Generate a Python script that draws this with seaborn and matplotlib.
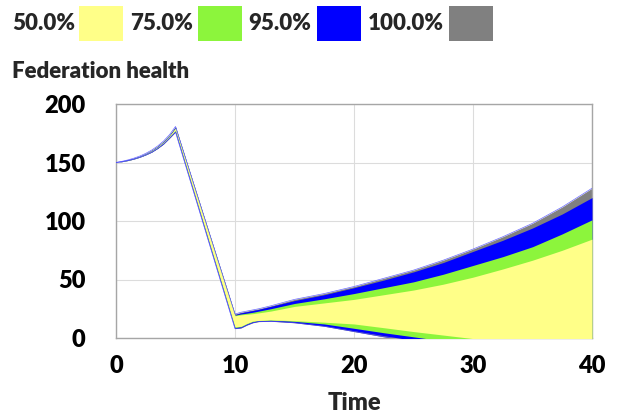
import matplotlib
matplotlib.use("Agg")
import matplotlib.pyplot as plt
import seaborn as sns
import pandas as pd
from matplotlib.patches import Rectangle

# =====================================================
# DATA
# =====================================================
time = [0, 0.5, 1, 1.5, 2, 2.5, 3, 3.5, 4, 4.5, 5,
        10, 10.5, 11, 11.5, 12, 13, 15, 17.5, 20,
        22.5, 25, 27.5, 30, 32.5, 35, 37.5, 40]

hi100 = [150, 151.0, 152.2, 153.7, 155.5, 157.8, 160.6, 164.1, 168.4, 173.8, 180.8,
         20.5, 22, 23, 24, 25, 27.5, 33, 38, 44,
         51, 58, 66.5, 76, 86.5, 98, 112, 128]
hi95 = [150, 151.0, 152.2, 153.6, 155.4, 157.7, 160.4, 163.9, 168.2, 173.5, 180.4,
        20, 21.5, 22.5, 23.5, 24.5, 27, 32, 37, 43,
        49.5, 56.5, 64.5, 74, 83.5, 94, 106, 120]
hi75 = [150, 150.9, 152.1, 153.5, 155.3, 157.5, 160.2, 163.6, 167.8, 173.1, 179.7,
        19.5, 20.5, 21.2, 22, 23, 25, 29.5, 33.5, 38,
        43, 48, 54.5, 62, 69.5, 78, 89, 101]
hi50 = [150, 150.9, 152.0, 153.4, 155.2, 157.4, 160.0, 163.4, 167.6, 172.8, 179.3,
        19, 19.8, 20.3, 20.8, 21.5, 23, 27, 30, 33,
        37, 41, 46, 52, 59, 66.5, 75, 84.5]
lo50 = [150, 150.8, 151.9, 153.2, 154.9, 157.0, 159.5, 162.8, 166.8, 171.9, 177.5,
        9.5, 10, 12.5, 14.5, 15, 15.5, 14.8, 13.5, 12,
        8.8, 5.5, 2.5, -0.5, -3.5, -7, -10, -13]
lo75 = [150, 150.8, 151.8, 153.1, 154.8, 156.8, 159.3, 162.5, 166.5, 171.5, 177.0,
        9, 9.5, 12, 14, 14.8, 15.2, 14.2, 12, 8.3,
        4.5, 1, -2.5, -6, -9, -12, -15, -18]
lo95 = [150, 150.7, 151.7, 153.0, 154.6, 156.6, 159.0, 162.2, 166.1, 171.1, 176.5,
        8.5, 9, 11.5, 13.5, 14.5, 14.8, 13.5, 10.5, 6.2,
        2, -2, -6, -10, -14, -18, -22, -26]
lo100 = [150, 150.7, 151.7, 152.9, 154.5, 156.5, 158.8, 162.0, 165.8, 170.8, 176.0,
         8, 8.5, 11, 13, 14, 14.3, 13, 10, 5.5,
         1, -3, -7, -11, -15, -19, -23, -27]

band_labels = ["50.0%", "75.0%", "95.0%", "100.0%"]
band_colors = ["#ffff88", "#8cf53c", "#0000ff", "#808080"]

df = pd.DataFrame({"time": time, "hi100": hi100, "lo100": lo100})

# =====================================================
# STYLE
# =====================================================
sns.set_theme(style="whitegrid")
plt.rcParams["font.family"] = ["Lato", "DejaVu Sans"]
plt.rcParams["ytick.major.pad"] = 22
plt.rcParams["xtick.major.pad"] = 12

W, H = 618, 417
fig = plt.figure(figsize=(W / 100, H / 100), dpi=100)
ax = fig.add_axes([116 / W, 1 - 338 / H, (592 - 116) / W, (338 - 104) / H])

# =====================================================
# BANDS (widest first)
# =====================================================
ax.fill_between(time, lo100, hi100, color=band_colors[3], lw=0, zorder=2)
ax.fill_between(time, lo95, hi95, color=band_colors[2], lw=0, zorder=3)
ax.fill_between(time, lo75, hi75, color=band_colors[1], lw=0, zorder=4)
ax.fill_between(time, lo50, hi50, color=band_colors[0], lw=0, zorder=5)

# thin outline of the outer envelope
sns.lineplot(data=df, x="time", y="hi100", color="#6a6aff", lw=0.5,
             ax=ax, zorder=6)
sns.lineplot(data=df, x="time", y="lo100", color="#3a3aff", lw=0.5,
             ax=ax, zorder=6)

ax.set_xlim(0, 40)
ax.set_ylim(0, 200)
ax.set_xticks([0, 10, 20, 30, 40])
ax.set_yticks([0, 50, 100, 150, 200])
ax.grid(True, color="#dcdcdc", lw=0.8)
ax.set_axisbelow(True)
for s in ax.spines.values():
    s.set_color("#a6a6a6")
    s.set_linewidth(1.0)
ax.set_facecolor("white")

ax.tick_params(axis="both", length=0, labelsize=17, colors="black")
ax.tick_params(axis="y", pad=22)
ax.tick_params(axis="x", pad=12)
for lab in ax.get_xticklabels() + ax.get_yticklabels():
    lab.set_fontweight("heavy")

ax.set_xlabel("Time", fontsize=17, fontweight="heavy", labelpad=11)
ax.set_ylabel("")

# =====================================================
# TITLE + LEGEND
# =====================================================
fig.text(12 / W, 1 - 72 / H, "Federation health", fontsize=16,
         fontweight="heavy", va="center", ha="left")

text_x = [12, 130, 248, 368]
box_x = [79, 198, 317, 449]
for lab, col, tx, bx in zip(band_labels, band_colors, text_x, box_x):
    fig.text(tx / W, 1 - 24 / H, lab, fontsize=16, fontweight="heavy",
             va="center", ha="left")
    fig.patches.append(Rectangle((bx / W, 1 - 41 / H), 44 / W, 35 / H,
                                 transform=fig.transFigure,
                                 facecolor=col, edgecolor="none"))

plt.savefig("out.png", dpi=100)
plt.close()
